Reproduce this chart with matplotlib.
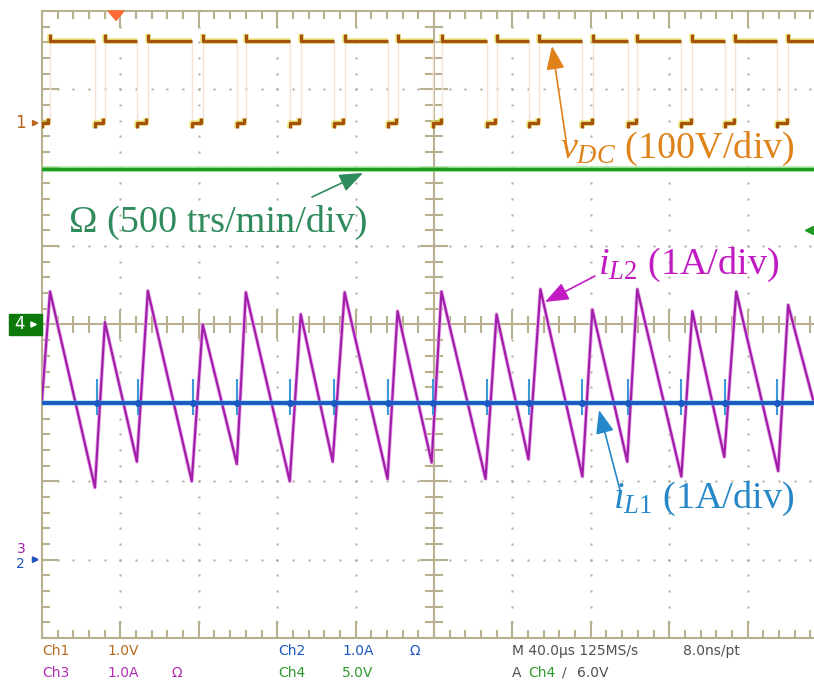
#!/usr/bin/env python3
# -*- coding: utf-8 -*-

import matplotlib
matplotlib.use('Agg')
from matplotlib import pyplot as plt
from matplotlib import font_manager
from matplotlib.patches import Rectangle, Polygon

W, H = 814, 681

# scope settings
t_div = 40.0            # us/div
n_xdiv, n_ydiv = 10, 8

# Ch1 : v_DC, 100 V/div, ground marker at +2.57 div
vdc_scale = 100.0
vdc_offset = 2.57
vdc_rise = [4.1, 32.1, 54.0, 82.0, 104.0, 132.0, 154.4, 181.4, 204.3, 231.9,
            253.8, 281.3, 303.7, 331.8, 353.7, 380.7]
vdc_fall = [27.0, 48.4, 76.4, 99.4, 126.4, 148.8, 176.3, 199.3, 226.8, 248.7,
            275.7, 299.1, 326.2, 348.6, 375.1]
vdc_high = 105.0
vdc_low = 0.0
vdc_over = 9.0

# Ch4 : Omega, 500 trs/min/div, ground at 0 div
omega_scale = 500.0
omega_offset = 0.0
omega_level = 990.0

# Ch3 : i_L2, 1 A/div, ground at -3 div
il2_scale = 1.0
il2_offset = -3.0
il2_t = [0.0, 4.1, 27.0, 32.1, 48.4, 54.0, 76.4, 82.0, 99.4, 104.0, 126.4, 132.0,
         148.3, 154.4, 176.3, 181.4, 198.8, 203.8, 226.3, 231.9, 248.2, 254.3,
         275.7, 280.8, 298.6, 303.7, 326.2, 331.8, 348.1, 354.2, 375.6, 380.7, 393.4]
il2_a = [2.04, 3.42, 0.92, 3.03, 1.25, 3.43, 1.00, 3.00, 1.22, 3.41, 1.00, 3.13,
         1.25, 3.41, 1.03, 3.17, 1.24, 3.42, 1.03, 3.13, 1.28, 3.45, 1.06, 3.19,
         1.25, 3.45, 1.06, 3.17, 1.31, 3.42, 1.13, 3.25, 2.04]

# Ch2 : i_L1, 1 A/div, ground at -3 div
il1_scale = 1.0
il1_offset = -3.0
il1_level = 2.0
il1_spike_t = [28.0, 48.9, 77.0, 99.4, 126.4, 148.8, 176.3, 199.3, 226.8, 248.7,
               275.7, 299.1, 326.2, 348.6, 375.1]
il1_spike_up = 0.30
il1_spike_dn = 0.15

# trigger (Ch4, 5 V/div)
trig_level = 6.0
trig_scale = 5.0
trig_pos = 37.8

# colours
grid_c = '#B8B08E'
dot_c = '#A9A592'
ch1_c = '#A4520E'
ch2_c = '#1C58C2'
ch3_c = '#A01EA8'
ch4_c = '#1E9A1E'

names = {f.name for f in font_manager.fontManager.ttflist}
scope_font = 'Liberation Sans Narrow' if 'Liberation Sans Narrow' in names else 'DejaVu Sans'

plt.rcParams['mathtext.fontset'] = 'custom'
plt.rcParams['mathtext.rm'] = 'Liberation Serif'
plt.rcParams['mathtext.it'] = 'Liberation Serif:italic'


def tx(t):
    return t / t_div


def dv(v, scale, offset):
    return v / scale + offset


def fp(x, y):
    # pixel position (from top-left) -> figure fraction
    return x / W, 1 - y / H


fig = plt.figure(figsize=(W / 100, H / 100), dpi=100)
ax = fig.add_axes([42 / W, 43 / H, 784 / W, 627 / H])
ax.set_xlim(0, n_xdiv)
ax.set_ylim(-n_ydiv / 2, n_ydiv / 2)
ax.axis('off')

# --- graticule ---
minor = [i * 0.2 for i in range(0, 51)]
minor_y = [-4 + i * 0.2 for i in range(0, 41)]
for k in range(1, n_xdiv):
    if k == 5:
        continue
    ax.plot([k] * len(minor_y), minor_y, ls='none', marker='s', ms=1.4, color=dot_c, mew=0)
for k in range(-3, 4):
    if k == 0:
        continue
    ax.plot(minor, [k] * len(minor), ls='none', marker='s', ms=1.4, color=dot_c, mew=0)

lw_g = 1.5
ax.plot([0, 0], [-4, 4], color=grid_c, lw=lw_g, clip_on=False)
ax.plot([0, 10], [4, 4], color=grid_c, lw=lw_g, clip_on=False)
ax.plot([0, 10], [-4, -4], color=grid_c, lw=lw_g, clip_on=False)
ax.plot([5, 5], [-4, 4], color=grid_c, lw=lw_g)
ax.plot([0, 10], [0, 0], color=grid_c, lw=lw_g)
for i, x in enumerate(minor):
    big = (i % 5 == 0)
    L = 0.2 if big else 0.09
    ax.plot([x, x], [4, 4 - L], color=grid_c, lw=lw_g)
    ax.plot([x, x], [-4, -4 + L], color=grid_c, lw=lw_g)
    c = 0.17 if big else 0.1
    ax.plot([x, x], [-c, c], color=grid_c, lw=lw_g)
for i, y in enumerate(minor_y):
    big = (i % 5 == 0)
    L = 0.2 if big else 0.09
    ax.plot([0, L], [y, y], color=grid_c, lw=lw_g)
    c = 0.17 if big else 0.1
    ax.plot([5 - c, 5 + c], [y, y], color=grid_c, lw=lw_g)

# --- Ch1 : v_DC ---
y_hi = dv(vdc_high, vdc_scale, vdc_offset)
y_lo = dv(vdc_low, vdc_scale, vdc_offset)
y_ov = dv(vdc_high + vdc_over, vdc_scale, vdc_offset)
ax.vlines([tx(t) for t in vdc_rise + vdc_fall], y_lo, y_hi, color='#F3E2D6', lw=1, zorder=2)
for r, f in zip(vdc_rise, vdc_fall + [n_xdiv * t_div]):
    xs = [tx(r), tx(r), tx(f)]
    ys = [y_ov, y_hi, y_hi]
    ax.plot(xs, ys, color='#E4DC1C', lw=4.2, alpha=0.5, zorder=3, solid_capstyle='butt')
    ax.plot(xs, ys, color=ch1_c, lw=2.4, zorder=3, solid_capstyle='butt')
for f, r in zip([0.0] + vdc_fall, vdc_rise):
    xs = [tx(f), tx(f), tx(r) - 0.02, tx(r) - 0.02]
    ys = [y_lo - 0.06, y_lo, y_lo, y_lo + 0.07]
    ax.plot(xs, ys, color='#E4DC1C', lw=4.2, alpha=0.5, zorder=3, solid_capstyle='butt')
    ax.plot(xs, ys, color=ch1_c, lw=2.4, zorder=3, solid_capstyle='butt')

# --- Ch4 : Omega ---
y_om = dv(omega_level, omega_scale, omega_offset)
ax.plot([0, 10], [y_om, y_om], color='#7BE07B', lw=4.2, alpha=0.6, zorder=3)
ax.plot([0, 10], [y_om, y_om], color=ch4_c, lw=2.4, zorder=3)

# --- Ch3 : i_L2 ---
xs = [tx(t) for t in il2_t]
ys = [dv(a, il2_scale, il2_offset) for a in il2_a]
ax.plot(xs, ys, color='#EBB0EE', lw=2.8, zorder=4)
ax.plot(xs, ys, color=ch3_c, lw=1.6, zorder=4)

# --- Ch2 : i_L1 ---
y_l1 = dv(il1_level, il1_scale, il1_offset)
ax.plot([0, 10], [y_l1, y_l1], color='#4FC8E0', lw=4.0, alpha=0.5, zorder=5)
ax.plot([0, 10], [y_l1, y_l1], color=ch2_c, lw=2.8, zorder=5)
sx = [tx(t) for t in il1_spike_t]
ax.vlines(sx, y_l1 - il1_spike_dn / il1_scale, y_l1 + il1_spike_up / il1_scale,
          color='#3C9AD8', lw=1.5, zorder=5)
ax.plot(sx, [y_l1] * len(sx), ls='none', marker='o', ms=4, color=ch2_c, zorder=5)

# --- markers ---
ax.add_patch(Polygon([[tx(trig_pos) - 0.1, 4.0], [tx(trig_pos) + 0.1, 4.0],
                      [tx(trig_pos), 3.88]], closed=True, color='#FF6A33',
                     zorder=6, clip_on=False))
y_tr = dv(trig_level, trig_scale, omega_offset)
ax.plot([9.76, 9.95], [y_tr, y_tr], color=ch4_c, lw=1.5, zorder=6)
ax.plot([9.78], [y_tr], marker='<', ms=6, color=ch4_c, zorder=6)

mk = dict(family=scope_font, fontsize=12, va='center', ha='center')
arr = dict(arrowstyle='-|>', lw=1.3, mutation_scale=8)
ax.text(-0.27, vdc_offset, '1', color='#B5651D', clip_on=False, **mk)
ax.annotate('', xy=(0, vdc_offset), xytext=(-0.15, vdc_offset), annotation_clip=False,
            arrowprops=dict(color='#B5651D', **arr))
ax.add_patch(Rectangle((-0.42, -0.14), 0.42, 0.28, color='#0B7A0B', clip_on=False, zorder=6))
ax.text(-0.29, omega_offset, '4', color='white', zorder=7, clip_on=False, **mk)
ax.annotate('', xy=(-0.02, omega_offset), xytext=(-0.16, omega_offset),
            annotation_clip=False, zorder=7,
            arrowprops=dict(color='white', **arr))
ax.text(-0.27, il2_offset + 0.05, '3', color=ch3_c, clip_on=False,
        family=scope_font, fontsize=10, va='bottom', ha='center')
ax.text(-0.27, il1_offset + 0.03, '2', color=ch2_c, clip_on=False,
        family=scope_font, fontsize=10, va='top', ha='center')
ax.annotate('', xy=(0, il2_offset), xytext=(-0.15, il2_offset), annotation_clip=False,
            arrowprops=dict(color=ch3_c, **arr))
ax.annotate('', xy=(0, il1_offset), xytext=(-0.13, il1_offset), annotation_clip=False,
            arrowprops=dict(color=ch2_c, **arr))

# --- annotations ---
big = dict(family='Liberation Serif', fontsize=27.5, ha='left', va='baseline')
labels = [
    (r'$v_{DC}$ (100V/div)', '#E0821A', (560, 158), (566, 140), (552, 46)),
    ('\u03a9 (500 trs/min/div)', '#2F8A5C', (69, 232), (312, 197), (363, 173)),
    (r'$i_{L2}$ (1A/div)', '#C21AC2', (598, 274), (595, 276), (545, 302)),
    (r'$i_{L1}$ (1A/div)', '#2688C8', (613, 508), (620, 490), (599, 410)),
]
for txt, col, pos, tail, tip in labels:
    fig.text(*fp(*pos), txt, color=col, **big)
    ax.annotate('', xy=fp(*tip), xytext=fp(*tail), xycoords='figure fraction',
                textcoords='figure fraction',
                arrowprops=dict(arrowstyle='-|>,head_length=0.9,head_width=0.35',
                                color=col, lw=1.2, mutation_scale=16, shrinkA=0, shrinkB=0))

# --- status text ---
st = dict(family=scope_font, fontsize=10, va='center', ha='left')
gray = '#505050'
rows = [
    (42, 651, 'Ch1', '#B8691F'), (107, 651, '1.0V', '#B8691F'),
    (278, 651, 'Ch2', ch2_c), (342, 651, '1.0A', ch2_c), (410, 651, '\u03a9', ch2_c),
    (512, 651, 'M 40.0\u00b5s 125MS/s', gray), (683, 651, '8.0ns/pt', gray),
    (42, 673, 'Ch3', '#B32DB3'), (107, 673, '1.0A', '#B32DB3'), (172, 673, '\u03a9', '#B32DB3'),
    (278, 673, 'Ch4', '#2E9A2E'), (342, 673, '5.0V', '#2E9A2E'),
    (512, 673, 'A', gray), (528, 673, 'Ch4', '#2E9A2E'), (562, 673, '/', gray),
    (577, 673, '6.0V', gray),
]
for x, y, s, c in rows:
    fig.text(*fp(x, y), s, color=c, **st)

fig.savefig('out.png', dpi=100)
